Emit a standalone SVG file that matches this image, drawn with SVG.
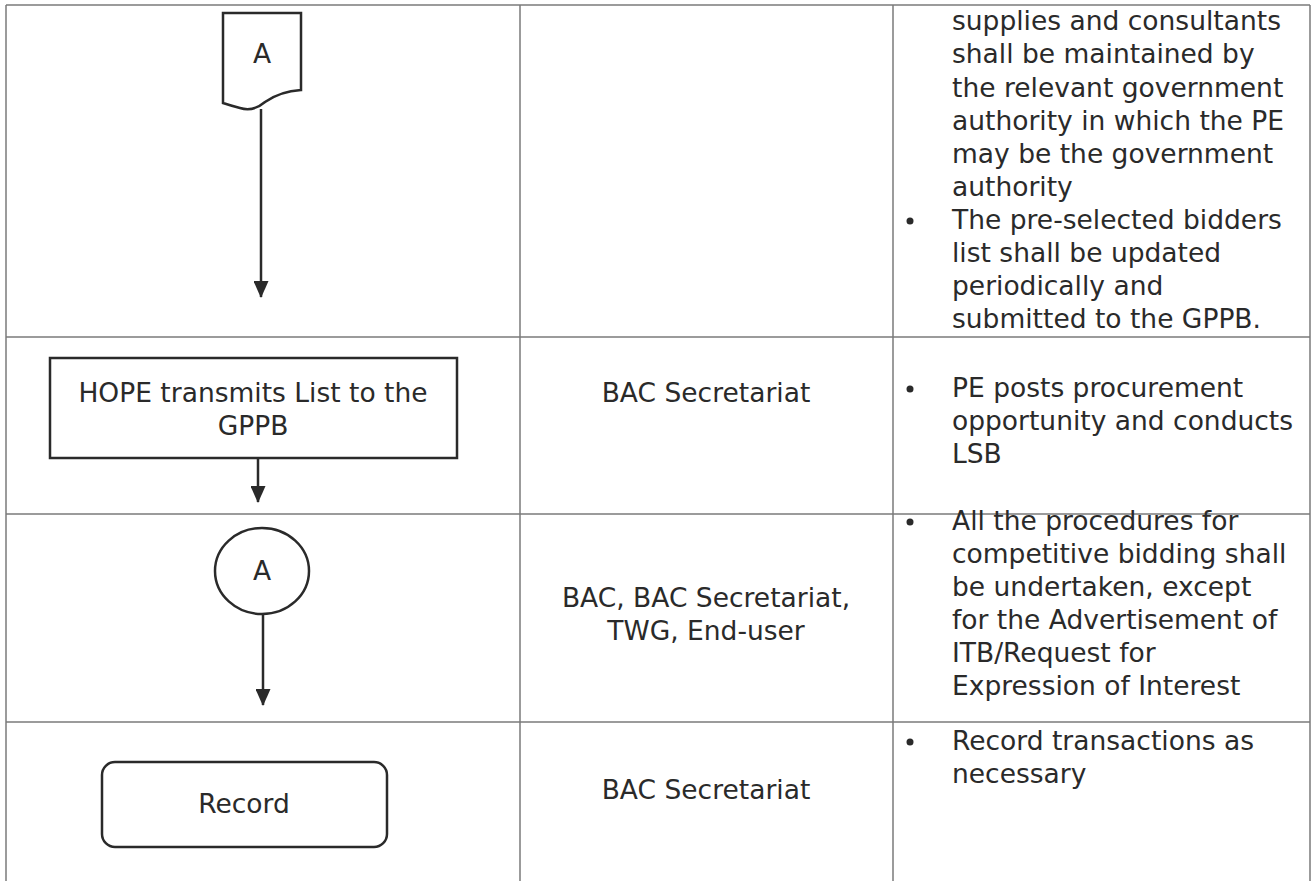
<svg xmlns="http://www.w3.org/2000/svg" width="1312" height="881" viewBox="0 0 1312 881">
<style>
.grid{stroke:#7a7a7a;stroke-width:1.5;fill:none}
.shape{stroke:#2a2a2a;stroke-width:2.5;fill:#fff}
.t{font-family:"DejaVu Sans",Verdana,sans-serif;font-size:26.5px;fill:#2a2a2a}
.c{text-anchor:middle}
.conn{stroke:#2a2a2a;stroke-width:2.5;fill:none;marker-end:url(#ah)}
.dot{fill:#2a2a2a}
</style>
<defs>
<marker id="ah" markerWidth="17" markerHeight="15" refX="16" refY="7.5" orient="auto" markerUnits="userSpaceOnUse" viewBox="0 0 17 15">
<path d="M0,0 L17,7.5 L0,15 Z" fill="#2a2a2a"/>
</marker>
</defs>
<rect width="1312" height="881" fill="#fff"/>
<g id="table">
<line class="grid" x1="6" y1="5" x2="1310" y2="5"/>
<line class="grid" x1="6" y1="5" x2="6" y2="881"/>
<line class="grid" x1="520" y1="5" x2="520" y2="881"/>
<line class="grid" x1="893" y1="5" x2="893" y2="881"/>
<line class="grid" x1="1310" y1="5" x2="1310" y2="881"/>
<line class="grid" x1="6" y1="337" x2="1310" y2="337"/>
<line class="grid" x1="6" y1="514" x2="1310" y2="514"/>
<line class="grid" x1="6" y1="722" x2="1310" y2="722"/>
</g>
<g id="connectors">
<line class="conn" x1="261" y1="109" x2="261" y2="297"/>
<line class="conn" x1="258" y1="458" x2="258" y2="502"/>
<line class="conn" x1="263" y1="614" x2="263" y2="705"/>
</g>
<g id="node-offpage-A">
<path class="shape" d="M223,13 H301 V90 C285,91 275,95 265,102 C258,108 250,111 240,108 C232,106 226,104 223,103 Z"/>
<text class="t c" x="262" y="63">A</text>
</g>
<g id="node-hope">
<rect class="shape" x="50" y="358" width="407" height="100"/>
<text class="t c" x="253" y="402">HOPE transmits List to the</text>
<text class="t c" x="253" y="435">GPPB</text>
</g>
<g id="node-connector-A">
<ellipse class="shape" cx="262" cy="571" rx="47" ry="43"/>
<text class="t c" x="262" y="580">A</text>
</g>
<g id="node-record">
<rect class="shape" x="102" y="762" width="285" height="85" rx="13"/>
<text class="t c" x="244" y="813">Record</text>
</g>
<g id="col2">
<text class="t c" x="706" y="402">BAC Secretariat</text>
<text class="t c" x="706" y="607">BAC, BAC Secretariat,</text>
<text class="t c" x="706" y="640">TWG, End-user</text>
<text class="t c" x="706" y="799">BAC Secretariat</text>
</g>
<g id="col3">
<text class="t" x="952" y="30">supplies and consultants</text>
<text class="t" x="952" y="63">shall be maintained by</text>
<text class="t" x="952" y="97">the relevant government</text>
<text class="t" x="952" y="130">authority in which the PE</text>
<text class="t" x="952" y="163">may be the government</text>
<text class="t" x="952" y="196">authority</text>
<circle class="dot" cx="910" cy="221" r="3.5"/>
<text class="t" x="952" y="229">The pre-selected bidders</text>
<text class="t" x="952" y="262">list shall be updated</text>
<text class="t" x="952" y="295">periodically and</text>
<text class="t" x="952" y="328">submitted to the GPPB.</text>
<circle class="dot" cx="910" cy="389" r="3.5"/>
<text class="t" x="952" y="397">PE posts procurement</text>
<text class="t" x="952" y="430">opportunity and conducts</text>
<text class="t" x="952" y="463">LSB</text>
<circle class="dot" cx="910" cy="522" r="3.5"/>
<text class="t" x="952" y="530">All the procedures for</text>
<text class="t" x="952" y="563">competitive bidding shall</text>
<text class="t" x="952" y="596">be undertaken, except</text>
<text class="t" x="952" y="629">for the Advertisement of</text>
<text class="t" x="952" y="662">ITB/Request for</text>
<text class="t" x="952" y="695">Expression of Interest</text>
<circle class="dot" cx="910" cy="742" r="3.5"/>
<text class="t" x="952" y="750">Record transactions as</text>
<text class="t" x="952" y="783">necessary</text>
</g>
</svg>
